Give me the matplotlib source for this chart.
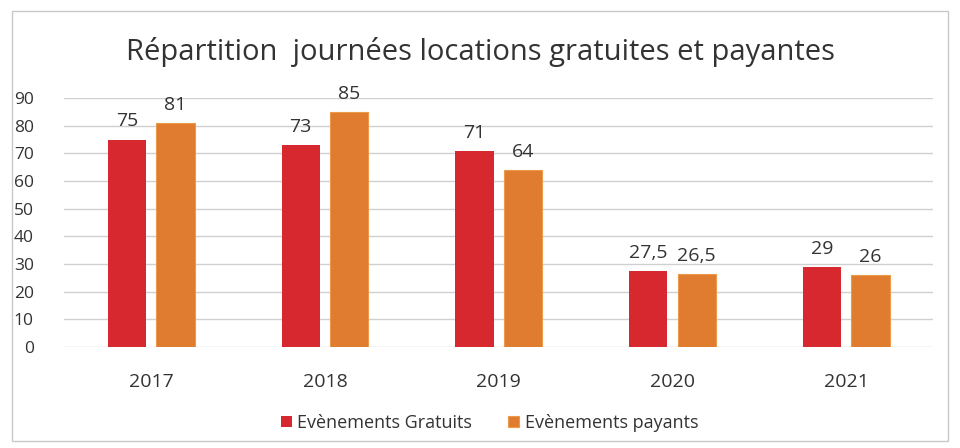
import matplotlib
matplotlib.use("Agg")
import matplotlib.pyplot as plt
import numpy as np
from matplotlib.patches import Rectangle

# données
annees = ["2017", "2018", "2019", "2020", "2021"]
gratuits = [75, 73, 71, 27.5, 29]
payants = [81, 85, 64, 26.5, 26]
etiquettes_gratuits = ["75", "73", "71", "27,5", "29"]
etiquettes_payants = ["81", "85", "64", "26,5", "26"]

rouge = "#d8282f"
orange = "#e07c30"
gris = "#333333"

plt.rcParams['font.family'] = ['Open Sans', 'DejaVu Sans']

fig = plt.figure(figsize=(9.6, 4.48), dpi=100)
fig.patch.set_facecolor("white")
# cadre gris autour du graphique
fig.add_artist(Rectangle((0.012, 0.015), 0.976, 0.96, transform=fig.transFigure,
                         fill=False, edgecolor="#c8c8c8", linewidth=1))

ax = fig.add_axes([0.067, 0.2254, 0.905, 0.5556])

x = np.arange(len(annees))
w = 0.22
b1 = ax.bar(x - 0.14, gratuits, w, color=rouge, label="Evènements Gratuits", zorder=3)
b2 = ax.bar(x + 0.14, payants, w, color=orange, edgecolor="#eb9a4a", linewidth=0.8,
            label="Evènements payants", zorder=3)

for rect, txt in zip(b1, etiquettes_gratuits):
    ax.text(rect.get_x() + rect.get_width() / 2, rect.get_height() + 3.3, txt,
            ha="center", va="bottom", fontsize=14, color=gris, clip_on=False)
for rect, txt in zip(b2, etiquettes_payants):
    ax.text(rect.get_x() + rect.get_width() / 2, rect.get_height() + 3.3, txt,
            ha="center", va="bottom", fontsize=14, color=gris, clip_on=False)

ax.set_xlim(-0.5, 4.5)
ax.set_ylim(0, 90)
ax.set_yticks(range(0, 91, 10))
ax.set_xticks(x)
ax.set_xticklabels(annees, fontsize=14, color=gris)
ax.tick_params(axis="y", labelsize=12.5, colors=gris, length=0, pad=22)
ax.tick_params(axis="x", length=0, pad=19)
ax.grid(axis="y", color="#d0d0d0", linewidth=1, zorder=0)
for s in ax.spines.values():
    s.set_visible(False)

fig.text(0.5, 0.885, "Répartition  journées locations gratuites et payantes",
         ha="center", va="center", fontsize=21, color=gris)

fig.legend(handles=[b1, b2], loc="center", bbox_to_anchor=(0.51, 0.056), ncol=2,
           frameon=False, fontsize=13, handlelength=0.6, handleheight=0.6,
           handletextpad=0.3, columnspacing=2.0, labelcolor=gris)

fig.savefig("out.png", dpi=100)
